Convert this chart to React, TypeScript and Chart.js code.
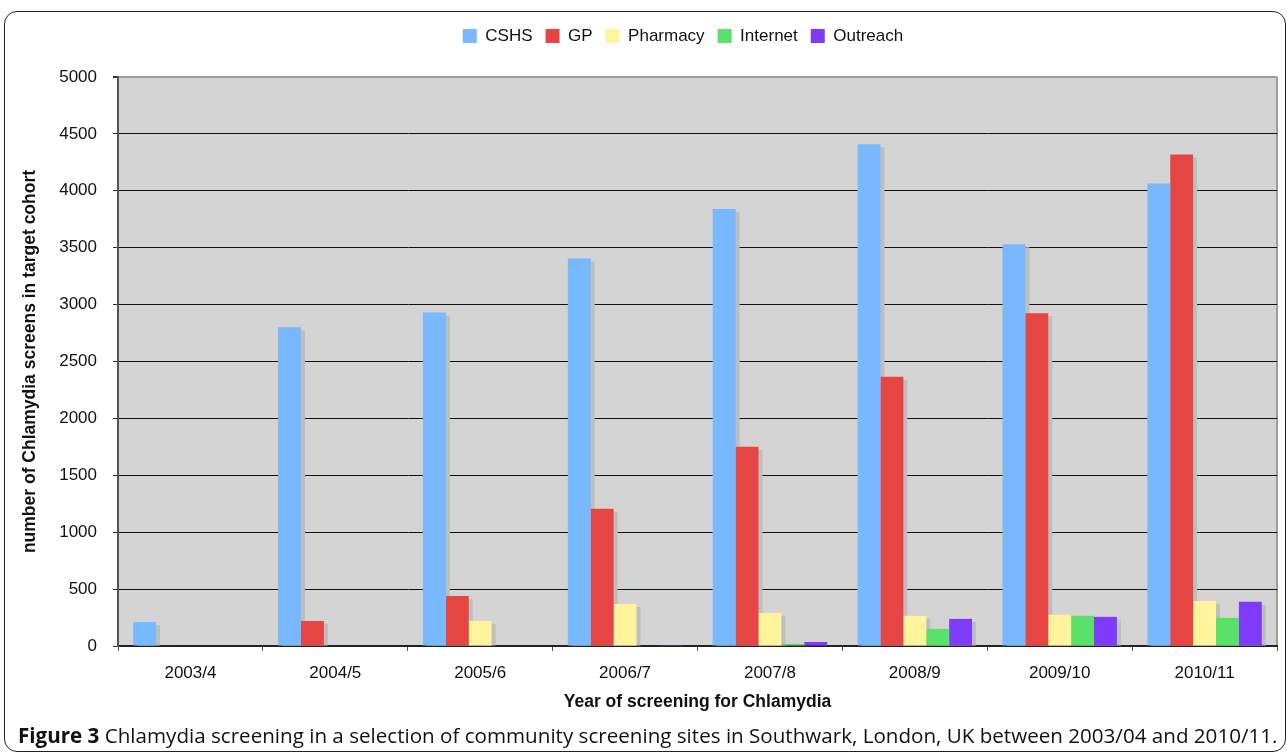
import { useEffect, useRef } from 'react';
import { Chart, registerables } from 'chart.js';

Chart.register(...registerables);

// Screening years (x categories)
const years = ['2003/4', '2004/5', '2005/6', '2006/7', '2007/8', '2008/9', '2009/10', '2010/11'];

// Number of Chlamydia screens in the target cohort, per screening site type
const cshs = [210, 2800, 2930, 3405, 3840, 4410, 3530, 4065];
const gp = [4, 220, 440, 1205, 1750, 2365, 2925, 4320];
const pharmacy = [0, 0, 220, 370, 290, 265, 275, 395];
const internet = [0, 0, 0, 0, 18, 150, 265, 247];
const outreach = [0, 0, 0, 8, 35, 238, 256, 388];

const seriesNames = ['CSHS', 'GP', 'Pharmacy', 'Internet', 'Outreach'];
const seriesValues = [cshs, gp, pharmacy, internet, outreach];
const seriesColors = ['#77b8fe', '#e54643', '#fff39b', '#5ae16a', '#7e3bfa'];

const yMin = 0;
const yMax = 5000;
const yStep = 500;

const xTitle = 'Year of screening for Chlamydia';
const yTitle = 'number of Chlamydia screens in target cohort';

const FONT = "'Liberation Sans', Arial, sans-serif";
const PLOT_BG = '#d4d4d4';
const SHADOW = '#bebebe';

// Grey plot background plus the grey frame on the right
const plotBackground = {
  id: 'plotBackground',
  beforeDraw(chart: any) {
    const { ctx, chartArea: a } = chart;
    ctx.save();
    ctx.fillStyle = PLOT_BG;
    ctx.fillRect(a.left, a.top, a.right - a.left, a.bottom - a.top);
    ctx.strokeStyle = '#9c9c9c';
    ctx.lineWidth = 2;
    ctx.beginPath();
    ctx.moveTo(a.right, a.top);
    ctx.lineTo(a.right, a.bottom);
    ctx.stroke();
    ctx.restore();
  },
};

// Flat drop shadow behind every bar
const barShadows = {
  id: 'barShadows',
  beforeDatasetsDraw(chart: any) {
    const { ctx, chartArea: a } = chart;
    ctx.save();
    ctx.beginPath();
    ctx.rect(a.left, a.top, a.right - a.left, a.bottom - a.top);
    ctx.clip();
    ctx.fillStyle = SHADOW;
    chart.data.datasets.forEach((_ds: any, i: number) => {
      const meta = chart.getDatasetMeta(i);
      meta.data.forEach((bar: any) => {
        const { x, y, base, width } = bar.getProps(['x', 'y', 'base', 'width'], true);
        const h = base - y;
        if (h < 4) return;
        ctx.fillRect(x - width / 2 + 4, y + 3, width, h - 3);
      });
    });
    ctx.restore();
  },
};

// Centre the legend row at a fixed x
const legendCentre = {
  id: 'legendCentre',
  afterLayout(chart: any) {
    const lg = chart.legend;
    if (!lg) return;
    const dx = 683 - (lg.left + lg.right) / 2;
    lg.left += dx;
    lg.right += dx;
  },
};

function ScreeningChart() {
  const canvasRef = useRef<HTMLCanvasElement | null>(null);

  useEffect(() => {
    const canvas = canvasRef.current;
    if (!canvas) return;
    const chart = new Chart(canvas, {
      type: 'bar',
      data: {
        labels: years,
        datasets: seriesNames.map((name, i) => ({
          label: name,
          data: seriesValues[i],
          backgroundColor: seriesColors[i],
          borderWidth: 0,
          barPercentage: 1,
          categoryPercentage: 0.79,
        })),
      },
      options: {
        responsive: false,
        animation: false,
        devicePixelRatio: 1,
        layout: { padding: { left: 10, right: 10, top: 14.5, bottom: 43 } },
        plugins: {
          legend: {
            position: 'top',
            weight: 1000,
            labels: {
              boxWidth: 14,
              boxHeight: 14,
              padding: 13,
              color: '#111',
              font: { family: FONT, size: 17 },
            },
          },
          title: {
            display: true,
            text: ' ',
            weight: 500,
            font: { size: 1, lineHeight: 1 },
            padding: { top: 21.5, bottom: 0 },
          },
          tooltip: { enabled: false },
        },
        scales: {
          x: {
            offset: true,
            grid: {
              offset: true,
              drawOnChartArea: false,
              drawTicks: true,
              tickLength: 5,
              tickColor: '#555',
            },
            border: { display: true, color: '#222', width: 2 },
            ticks: {
              color: '#111',
              padding: 12,
              maxRotation: 0,
              font: { family: FONT, size: 17 },
            },
            title: {
              display: true,
              text: xTitle,
              color: '#111',
              padding: { top: 0, bottom: 0 },
              font: { family: FONT, size: 17.5, weight: 'bold' },
            },
            afterFit(scale: any) {
              scale.height = 67;
            },
          },
          y: {
            min: yMin,
            max: yMax,
            grid: {
              color: (c: any) =>
                c.tick && c.tick.value === yMax ? '#9c9c9c' : c.tick && c.tick.value === yMin ? '#222' : '#111',
              lineWidth: (c: any) => (c.tick && c.tick.value === yMax ? 2 : 1),
              tickColor: '#333',
              tickLength: 5,
            },
            border: { display: true, color: '#555', width: 2 },
            ticks: {
              stepSize: yStep,
              color: '#111',
              padding: 16,
              font: { family: FONT, size: 17 },
              callback: (v: any) => String(v),
            },
            title: {
              display: true,
              text: yTitle,
              color: '#111',
              padding: { top: 9.5, bottom: 0 },
              font: { family: FONT, size: 17.5, weight: 'bold' },
            },
            afterFit(scale: any) {
              scale.width = 108;
            },
          },
        },
      },
      plugins: [plotBackground, barShadows, legendCentre],
    } as any);
    return () => chart.destroy();
  }, []);

  return <canvas ref={canvasRef} width={1287} height={756} style={{ display: 'block' }} />;
}

export default function App() {
  return (
    <div
      style={{
        position: 'fixed',
        left: 0,
        top: 0,
        width: 1287,
        height: 756,
        overflow: 'hidden',
        background: '#ffffff',
      }}
    >
      <ScreeningChart />
      <div
        style={{
          position: 'absolute',
          left: 4,
          top: 11,
          width: 1282,
          height: 741,
          boxSizing: 'border-box',
          border: '1.5px solid #222',
          borderRadius: 13,
          pointerEvents: 'none',
        }}
      />
      <div
        style={{
          position: 'absolute',
          left: 18,
          top: 721,
          whiteSpace: 'nowrap',
          fontFamily: "'Open Sans', 'Noto Sans', sans-serif",
          fontSize: 20.6,
          lineHeight: '28px',
          color: '#111',
        }}
      >
        <span style={{ fontWeight: 700 }}>Figure 3</span> Chlamydia screening in a selection of community screening
        sites in Southwark, London, UK between 2003/04 and 2010/11.
      </div>
    </div>
  );
}
